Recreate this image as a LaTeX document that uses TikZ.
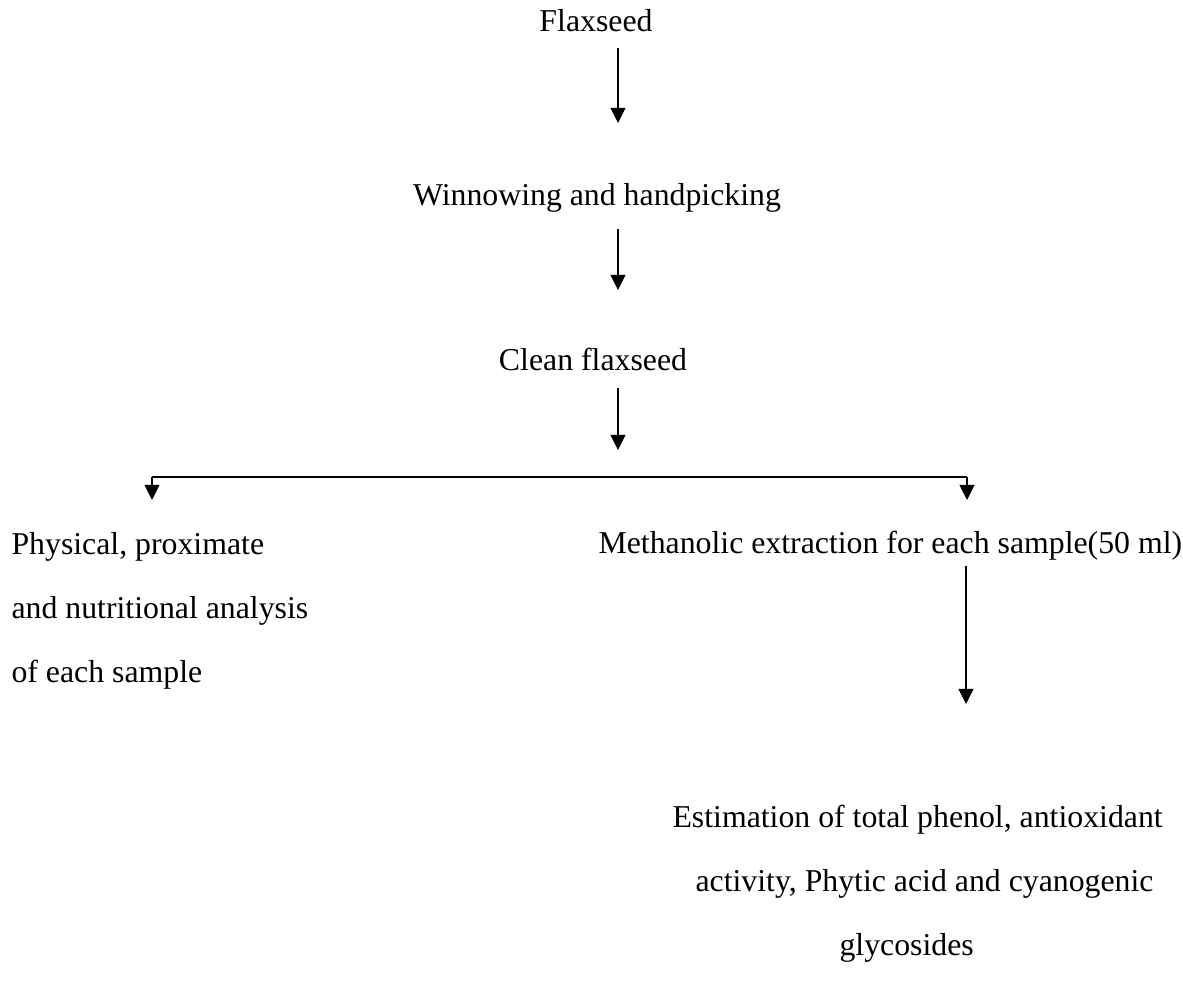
\documentclass[tikz,border=0pt]{standalone}
\usepackage{fontspec}
\setmainfont{Liberation Serif}
\usetikzlibrary{arrows.meta}
\begin{document}
\begin{tikzpicture}[x=0.3774pt,y=-0.3774pt,
  txt/.style={inner sep=0pt, font=\fontsize{12}{14}\selectfont},
  arr/.style={-{Triangle[length=5.7pt,width=5.6pt]}, line width=0.5pt},
  link/.style={line width=0.5pt}]
\useasboundingbox (0,0) rectangle (1183,997);
% texts
\node[txt, anchor=base] (flax) at (596,31) {Flaxseed};
\node[txt, anchor=base] (win) at (597,205) {Winnowing and handpicking};
\node[txt, anchor=base] (clean) at (593,370) {Clean flaxseed};
\node[txt, anchor=base west] (phys1) at (11,554) {Physical, proximate};
\node[txt, anchor=base west] (phys2) at (11,618) {and nutritional analysis};
\node[txt, anchor=base west] (phys3) at (11,682) {of each sample};
\node[txt, anchor=base west] (meth) at (598,553) {Methanolic extraction for each sample(50 ml)};
\node[txt, anchor=base west] (est1) at (672,827) {Estimation of total phenol, antioxidant};
\node[txt, anchor=base west] (est2) at (695,891) {activity, Phytic acid and cyanogenic};
\node[txt, anchor=base west] (est3) at (839,955) {glycosides};
% arrow end points
\coordinate (a1s) at (618,48);  \coordinate (a1e) at (618,123);
\coordinate (a2s) at (618,229); \coordinate (a2e) at (618,290);
\coordinate (a3s) at (618,388); \coordinate (a3e) at (618,450);
\coordinate (bl) at (152,477);  \coordinate (br) at (967,477);
\coordinate (ble) at (152,500); \coordinate (bre) at (967,500);
\coordinate (a4s) at (966,566); \coordinate (a4e) at (966,704);
% connectors
\draw[arr] (a1s) -- (a1e);
\draw[arr] (a2s) -- (a2e);
\draw[arr] (a3s) -- (a3e);
\draw[link] (bl) -- (br);
\draw[arr] (bl) -- (ble);
\draw[arr] (br) -- (bre);
\draw[arr] (a4s) -- (a4e);
\end{tikzpicture}
\end{document}
